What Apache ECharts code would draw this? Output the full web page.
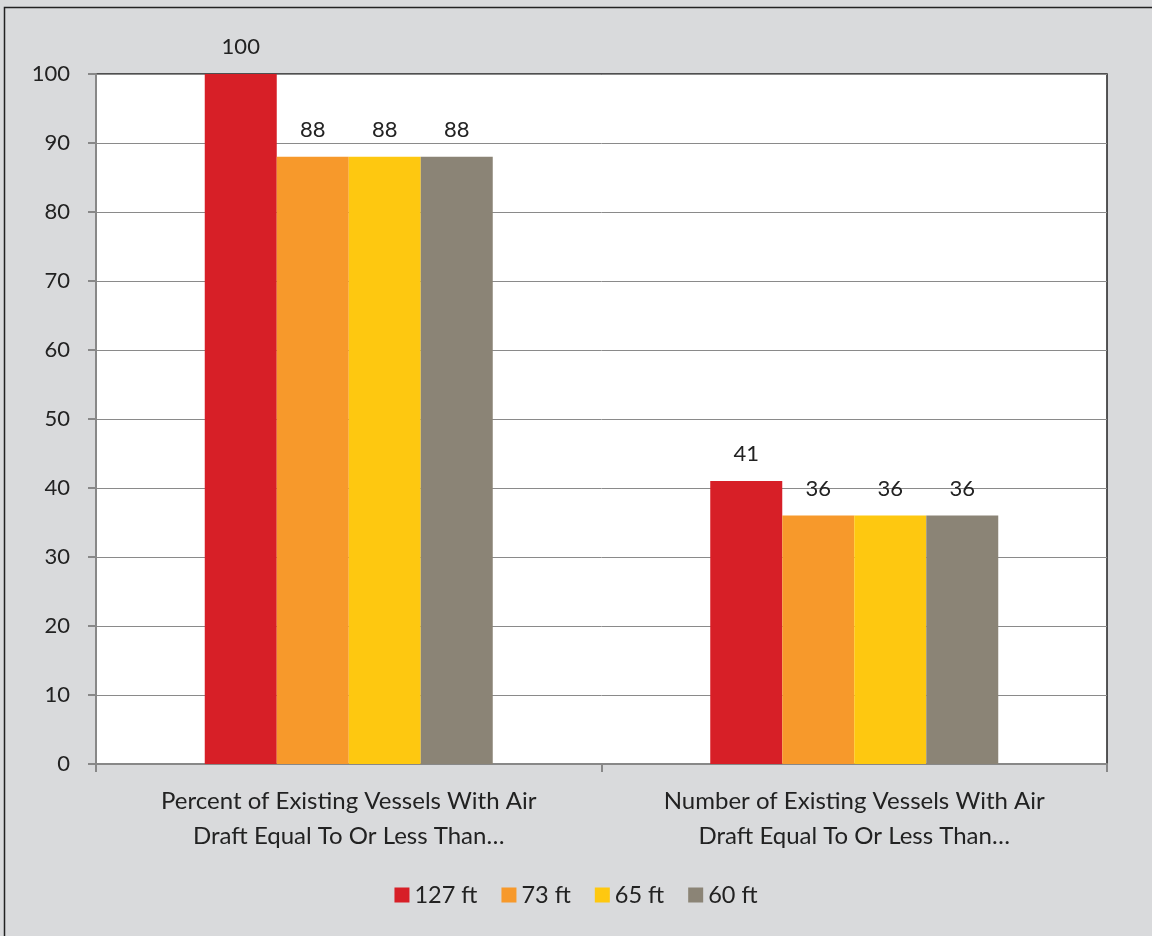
<!DOCTYPE html>
<html><head><meta charset="utf-8">
<script src="https://cdn.jsdelivr.net/npm/echarts@6/dist/echarts.min.js"></script>
<style>html,body{margin:0;padding:0;background:#D9DADC}#c{width:1152px;height:936px}</style>
</head><body><div id="c"></div>
<script>
const categories = ['Percent of Existing Vessels With Air\nDraft Equal To Or Less Than…', 'Number of Existing Vessels With Air\nDraft Equal To Or Less Than…'];
const seriesNames = ['127 ft', '73 ft', '65 ft', '60 ft'];
const values127 = [100, 41];
const values73 = [88, 36];
const values65 = [88, 36];
const values60 = [88, 36];
const colors = ['#D71F27', '#F7992B', '#FEC810', '#8B8476'];
const FONT = 'Lato';
const allValues = [values127, values73, values65, values60];
const chart = echarts.init(document.getElementById('c'));
chart.setOption({
  backgroundColor: '#D9DADC',
  textStyle: {fontFamily: FONT},
  graphic: [{type: 'rect', shape: {x: 4.5, y: 7.5, width: 1300, height: 1100}, style: {fill: 'none', stroke: '#222', lineWidth: 1.5}, z: 100}],
  grid: {left: 96, right: 45, top: 74, bottom: 172, show: true, backgroundColor: '#fff', borderColor: '#222', borderWidth: 1.5},
  legend: {bottom: 24, left: 'center', itemWidth: 15, itemHeight: 15, itemGap: 24, icon: 'rect',
    textStyle: {fontSize: 23.5, color: '#222', fontFamily: FONT}, data: seriesNames},
  xAxis: {type: 'category', data: categories,
    axisLine: {lineStyle: {color: '#888', width: 2}},
    axisTick: {show: true, length: 8, lineStyle: {color: '#888', width: 2}},
    axisLabel: {fontSize: 24, color: '#222', lineHeight: 35, margin: 20, fontFamily: FONT}},
  yAxis: {type: 'value', min: 0, max: 100, interval: 10,
    axisLine: {show: true, lineStyle: {color: '#888', width: 2}},
    axisTick: {show: true, length: 8, lineStyle: {color: '#888', width: 2}},
    axisLabel: {fontSize: 22, color: '#222', margin: 26, fontFamily: FONT},
    splitLine: {lineStyle: {color: '#8a8a8a', width: 1}}},
  series: seriesNames.map((n, i) => ({
    name: n, type: 'bar', data: allValues[i], barWidth: 72, barGap: '0%',
    itemStyle: {color: colors[i]},
    label: {show: true, position: 'top', distance: 16, fontSize: 22, color: '#222', fontFamily: FONT}
  }))
});
</script></body></html>
